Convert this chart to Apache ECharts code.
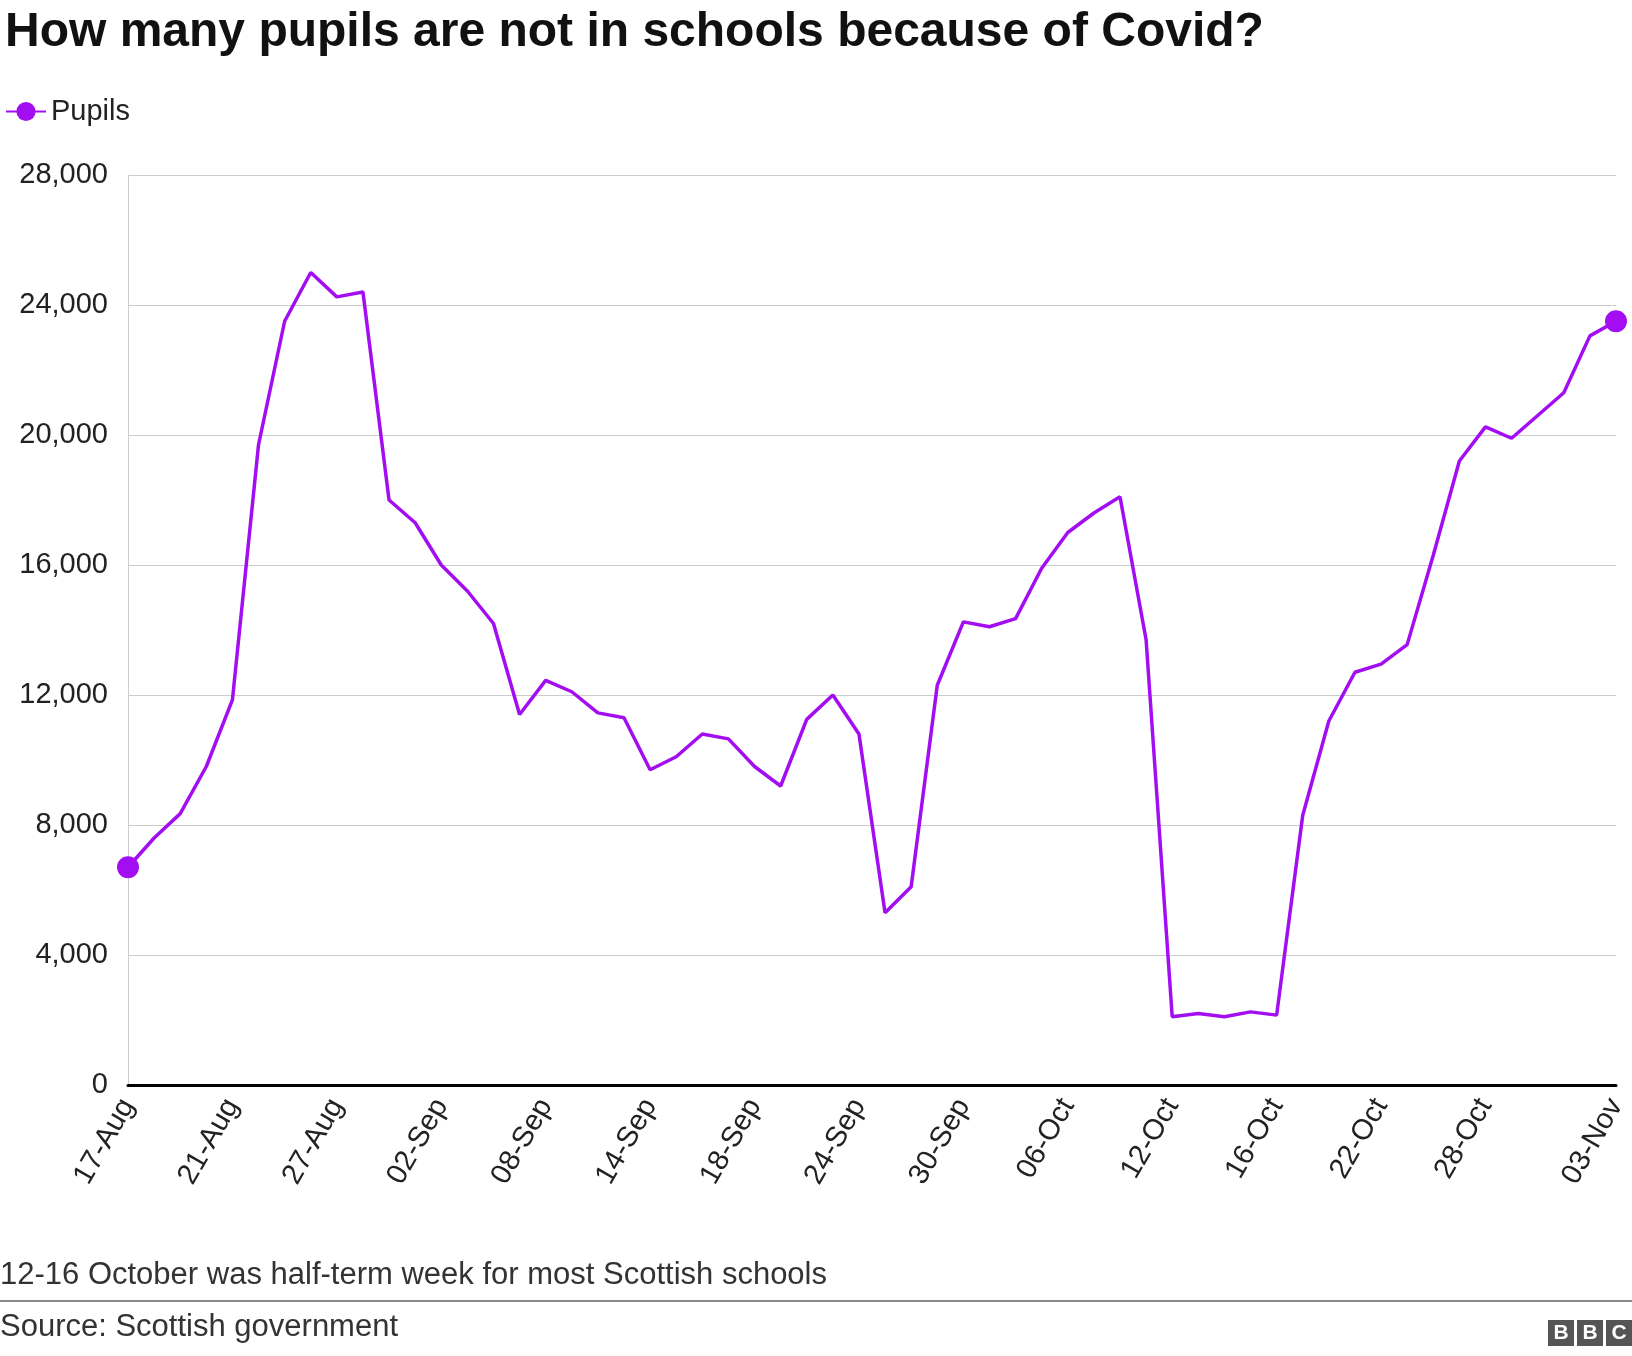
<!DOCTYPE html>
<html>
<head>
<meta charset="utf-8">
<script src="https://cdn.jsdelivr.net/npm/echarts@6/dist/echarts.min.js"></script>
<style>
  html, body { margin: 0; padding: 0; background: #fff; }
  #chart { width: 1632px; height: 1356px; }
</style>
</head>
<body>
<div id="chart"></div>
<script>
const dates = [
  '17-Aug','18-Aug','19-Aug','20-Aug','21-Aug','24-Aug','25-Aug','26-Aug','27-Aug','28-Aug',
  '31-Aug','01-Sep','02-Sep','03-Sep','04-Sep','07-Sep','08-Sep','09-Sep','10-Sep','11-Sep',
  '14-Sep','15-Sep','16-Sep','17-Sep','18-Sep','21-Sep','22-Sep','23-Sep','24-Sep','25-Sep',
  '28-Sep','29-Sep','30-Sep','01-Oct','02-Oct','05-Oct','06-Oct','07-Oct','08-Oct','09-Oct',
  '12-Oct','13-Oct','14-Oct','15-Oct','16-Oct','19-Oct','20-Oct','21-Oct','22-Oct','23-Oct',
  '26-Oct','27-Oct','28-Oct','29-Oct','30-Oct','01-Nov','02-Nov','03-Nov'
]
const pupils = [
  6700, 7600, 8350, 9800, 11850, 19700, 23500, 25000, 24250, 24400,
  18000, 17300, 16000, 15200, 14200, 11400, 12450, 12100, 11450, 11300,
  9700, 10100, 10800, 10650, 9800, 9200, 11250, 12000, 10800, 5300,
  6100, 12300, 14250, 14100, 14350, 15900, 17000, 17600, 18100, 13700,
  2100, 2200, 2100, 2250, 2150, 8300, 11200, 12700, 12950, 13550,
  16300, 19200, 20250, 19900, 20600, 21300, 23050, 23500
]
const shownLabels = ['17-Aug','21-Aug','27-Aug','02-Sep','08-Sep','14-Sep','18-Sep','24-Sep',
  '30-Sep','06-Oct','12-Oct','16-Oct','22-Oct','28-Oct','03-Nov']

const purple = '#a30df2'
const font = 'Liberation Sans, Arial, sans-serif'
const last = pupils.length - 1

const chart = echarts.init(document.getElementById('chart'))
chart.setOption({
  animation: false,
  textStyle: { fontFamily: font },
  title: {
    text: 'How many pupils are not in schools because of Covid?',
    left: 0, top: 4,
    textStyle: { fontSize: 48, fontWeight: 'bold', color: '#111', fontFamily: font }
  },
  legend: {
    left: 0, top: 92, itemWidth: 40, itemHeight: 24, itemGap: 12,
    textStyle: { fontSize: 29, color: '#222' },
    data: ['Pupils']
  },
  grid: { left: 128, right: 16, top: 175, bottom: 271 },
  xAxis: {
    type: 'category',
    data: dates,
    boundaryGap: false,
    axisLine: { lineStyle: { color: '#000', width: 3 } },
    axisTick: { show: false },
    axisLabel: {
      interval: i => shownLabels.includes(dates[i]),
      rotate: 60, fontSize: 29, color: '#222', margin: 16
    }
  },
  yAxis: {
    type: 'value', min: 0, max: 28000, interval: 4000,
    axisLine: { show: true, lineStyle: { color: '#ccc' } },
    axisLabel: {
      fontSize: 29, color: '#222', margin: 20,
      formatter: v => v.toLocaleString('en-GB')
    },
    splitLine: { lineStyle: { color: '#ccc', width: 1 } }
  },
  series: [{
    name: 'Pupils',
    type: 'line',
    symbol: 'circle',
    symbolSize: 22,
    showSymbol: true,
    itemStyle: { color: purple },
    lineStyle: { color: purple, width: 3.5 },
    data: pupils.map((v, i) => (i === 0 || i === last) ? v : { value: v, symbol: 'none' })
  }],
  graphic: [
    { type: 'text', left: 0, top: 1260, style: { text: '12-16 October was half-term week for most Scottish schools', fontSize: 31, fill: '#333', fontFamily: font } },
    { type: 'rect', left: 0, top: 1300, shape: { width: 1632, height: 2 }, style: { fill: '#888' } },
    { type: 'text', left: 0, top: 1312, style: { text: 'Source: Scottish government', fontSize: 31, fill: '#333', fontFamily: font } },
    { type: 'group', right: 0, top: 1320, children: [
      { type: 'rect', shape: { x: 0, y: 0, width: 26, height: 26 }, style: { fill: '#555' } },
      { type: 'text', style: { x: 13, y: 13, text: 'B', fontSize: 21, fontWeight: 'bold', fill: '#fff', align: 'center', verticalAlign: 'middle', fontFamily: font } },
      { type: 'rect', shape: { x: 29, y: 0, width: 26, height: 26 }, style: { fill: '#555' } },
      { type: 'text', style: { x: 42, y: 13, text: 'B', fontSize: 21, fontWeight: 'bold', fill: '#fff', align: 'center', verticalAlign: 'middle', fontFamily: font } },
      { type: 'rect', shape: { x: 58, y: 0, width: 26, height: 26 }, style: { fill: '#555' } },
      { type: 'text', style: { x: 71, y: 13, text: 'C', fontSize: 21, fontWeight: 'bold', fill: '#fff', align: 'center', verticalAlign: 'middle', fontFamily: font } }
    ] }
  ]
})
</script>
</body>
</html>
